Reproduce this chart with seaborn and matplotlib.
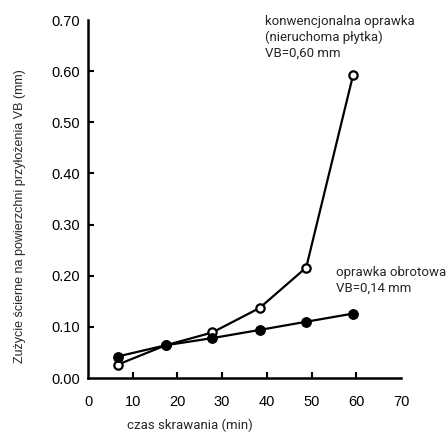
import matplotlib
matplotlib.use("Agg")
import matplotlib.pyplot as plt
import seaborn as sns
import pandas as pd

time_min = [6.6, 17.4, 27.8, 38.4, 48.8, 59.3]
vb_conventional = [0.026, 0.064, 0.089, 0.137, 0.216, 0.593]
vb_rotating = [0.042, 0.064, 0.078, 0.094, 0.110, 0.126]
x_ticks = [0, 10, 20, 30, 40, 50, 60, 70]
y_ticks = [0.0, 0.1, 0.2, 0.3, 0.4, 0.5, 0.6, 0.7]

sns.set_style("ticks")
plt.rcParams['font.family'] = ['Liberation Sans', 'DejaVu Sans']

fig = plt.figure(figsize=(4.48, 4.34), dpi=100)
ax = fig.add_axes([88/448, (434-378)/434, (401-88)/448, (378-20)/434])

df_c = pd.DataFrame({"t": time_min, "vb": vb_conventional})
df_r = pd.DataFrame({"t": time_min, "vb": vb_rotating})
sns.lineplot(data=df_c, x="t", y="vb", ax=ax, color="black", linewidth=1.6,
             marker="o", markersize=6, markerfacecolor="white",
             markeredgecolor="black", markeredgewidth=1.6, zorder=3)
sns.lineplot(data=df_r, x="t", y="vb", ax=ax, color="black", linewidth=1.6,
             marker="o", markersize=7, markerfacecolor="black",
             markeredgecolor="black", zorder=4)

ax.set_xlim(0, 68.8)
ax.set_ylim(0, 0.70)
ax.set_xticks(x_ticks)
ax.set_yticks(y_ticks)
ax.set_xticklabels([str(v) for v in x_ticks])
ax.set_yticklabels([f"{v:.2f}" for v in y_ticks])
ax.tick_params(direction="in", length=4, width=1.5, labelsize=10.5, colors="black")
ax.tick_params(axis="y", pad=6)
ax.tick_params(axis="x", pad=12)
for s in ["left", "bottom"]:
    ax.spines[s].set_linewidth(1.8)
    ax.spines[s].set_color("black")
sns.despine(ax=ax)
ax.set_xlabel("")
ax.set_ylabel("")

for t in ax.xaxis.get_major_ticks():
    if t.get_loc() in (0, 70):
        t.tick1line.set_visible(False)
for t in ax.yaxis.get_major_ticks():
    if abs(t.get_loc()) < 1e-9 or abs(t.get_loc() - 0.7) < 1e-9:
        t.tick1line.set_visible(False)

fig.text(190/448, 1 - 425/434, "czas skrawania (min)", ha="center", va="center",
         fontsize=9.5, family=["Roboto", "DejaVu Sans"])
fig.text(20/448, 1 - 216/434, "Zużycie ścierne na powierzchni przyłożenia VB (mm)",
         ha="center", va="center", rotation=90, fontsize=9,
         family=["Liberation Sans", "DejaVu Sans"])

fig.text(265/448, 1 - 15/434, "konwencjonalna oprawka\n(nieruchoma płytka)\nVB=0,60 mm",
         ha="left", va="top", fontsize=9.5, linespacing=1.25,
         family=["Roboto", "DejaVu Sans"])
fig.text(336/448, 1 - 266/434, "oprawka obrotowa\nVB=0,14 mm",
         ha="left", va="top", fontsize=9.5, linespacing=1.25,
         family=["Roboto", "DejaVu Sans"])

fig.savefig("out.png", dpi=100)
